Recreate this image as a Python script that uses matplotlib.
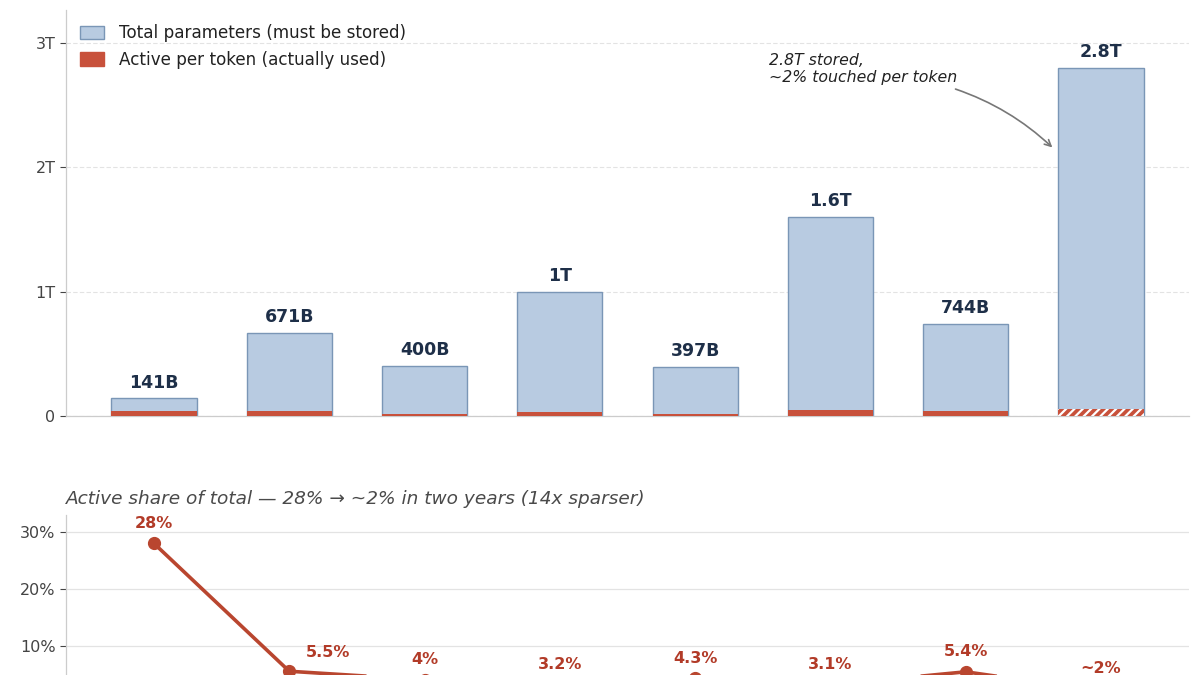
import matplotlib
matplotlib.use("Agg")
import matplotlib.pyplot as plt
from matplotlib.patches import Patch
import numpy as np

# ---- data ----
categories = ["M1", "M2", "M3", "M4", "M5", "M6", "M7", "M8"]
total_b = [141, 671, 400, 1000, 397, 1600, 744, 2800]          # billions
active_b = [39, 37, 17, 32, 17, 50, 40, 56]                     # billions
total_labels = ["141B", "671B", "400B", "1T", "397B", "1.6T", "744B", "2.8T"]
share_pct = [28, 5.5, 4, 3.2, 4.3, 3.1, 5.4, 2]
share_labels = ["28%", "5.5%", "4%", "3.2%", "4.3%", "3.1%", "5.4%", "~2%"]
speculative = [False, False, False, False, False, False, False, True]
yticks_top = [0, 1000, 2000, 3000]
yticks_top_labels = ["0", "1T", "2T", "3T"]
yticks_bot = [10, 20, 30]
yticks_bot_labels = ["10%", "20%", "30%"]

BLUE = "#b8cbe1"
BLUE_EDGE = "#7a96b6"
RED = "#c8513b"
LINE_RED = "#b9462f"
LABEL_RED = "#b23b28"
NAVY = "#1e2f48"
GRID = "#e3e3e3"
TICK = "#444444"

plt.rcParams["font.family"] = ["DejaVu Sans"]
plt.rcParams["hatch.linewidth"] = 1.6

fig = plt.figure(figsize=(12, 6.75), dpi=100)
W, H = 1200.0, 675.0

def pos(l, t, r, b):
    return [l / W, 1 - b / H, (r - l) / W, (b - t) / H]

x = np.arange(len(categories))

# ---- top axes ----
ax = fig.add_axes(pos(66, 10, 1189, 416))
ax.set_xlim(-0.65, 7.65)
ax.set_ylim(0, 3266)
ax.bar(x, total_b, width=0.63, color=BLUE, edgecolor=BLUE_EDGE, linewidth=1.0, zorder=2)
for xi, a, spec in zip(x, active_b, speculative):
    if spec:
        ax.bar(xi, a, width=0.63, color=RED, edgecolor="white", hatch="////",
               linewidth=0, zorder=3)
    else:
        ax.bar(xi, a, width=0.63, color=RED, linewidth=0, zorder=3)
for xi, t, lab in zip(x, total_b, total_labels):
    ax.annotate(lab, (xi, t), xytext=(0, 5), textcoords="offset points",
                ha="center", va="bottom", fontsize=12.5, fontweight="bold", color=NAVY)
ax.set_yticks(yticks_top)
ax.set_yticklabels(yticks_top_labels)
ax.set_xticks([])
ax.tick_params(axis="y", colors=TICK, labelsize=11.5, length=4, width=0.8)
for s in ["top", "right"]:
    ax.spines[s].set_visible(False)
for s in ["left", "bottom"]:
    ax.spines[s].set_color("#cccccc")
    ax.spines[s].set_linewidth(0.9)
ax.yaxis.grid(True, color=GRID, linewidth=0.8, linestyle=(0, (4, 2)))
ax.set_axisbelow(True)

handles = [Patch(facecolor=BLUE, edgecolor=BLUE_EDGE, label="Total parameters (must be stored)"),
           Patch(facecolor=RED, edgecolor=RED, label="Active per token (actually used)")]
leg = ax.legend(handles=handles, loc="upper left", bbox_to_anchor=(0.0, 1.0), frameon=False,
                fontsize=12.1, handlelength=1.4, handleheight=0.9, labelspacing=0.5,
                borderaxespad=0.45, handletextpad=0.9)
for t in leg.get_texts():
    t.set_color("#222222")

ax.annotate("2.8T stored,\n~2% touched per token", xy=(6.64, 2160), xytext=(4.545, 2920),
            fontsize=11.3, style="italic", color="#222222", ha="left", va="top",
            arrowprops=dict(arrowstyle="->", color="#777777", lw=1.2,
                            connectionstyle="arc3,rad=-0.12",
                            shrinkA=2, shrinkB=0, relpos=(0.93, 0.0)))

# ---- bottom axes ----
ax2 = fig.add_axes(pos(66, 515, 1189, 702.5))
ax2.set_xlim(-0.65, 7.65)
ax2.set_ylim(0, 33)
ax2.plot(x, share_pct, color=LINE_RED, linewidth=2.6, marker="o", markersize=8.5, zorder=3)
n = len(share_pct)
for i, (xi, v, lab) in enumerate(zip(x, share_pct, share_labels)):
    if i == 1:
        off = (28, 8)
    elif i == n - 1:
        off = (0, 11)
    else:
        off = (0, 9)
    ax2.annotate(lab, (xi, v), xytext=off, textcoords="offset points",
                 ha="center", va="bottom", fontsize=11.5, fontweight="bold", color=LABEL_RED)
ax2.set_yticks(yticks_bot)
ax2.set_yticklabels(yticks_bot_labels)
ax2.set_xticks(x)
ax2.set_xticklabels([])
ax2.tick_params(axis="y", colors=TICK, labelsize=11.5, length=4, width=0.8)
ax2.tick_params(axis="x", length=0)
for s in ["top", "right"]:
    ax2.spines[s].set_visible(False)
for s in ["left", "bottom"]:
    ax2.spines[s].set_color("#cccccc")
    ax2.spines[s].set_linewidth(0.9)
ax2.yaxis.grid(True, color=GRID, linewidth=0.9)
ax2.set_axisbelow(True)
ax2.text(0.0, 1.0 + 7 / 187.5, "Active share of total \u2014 28% \u2192 ~2% in two years (14x sparser)",
         transform=ax2.transAxes, ha="left", va="bottom", fontsize=13.3, style="italic",
         color="#4a4a4a")

fig.savefig("out.png", dpi=100)
